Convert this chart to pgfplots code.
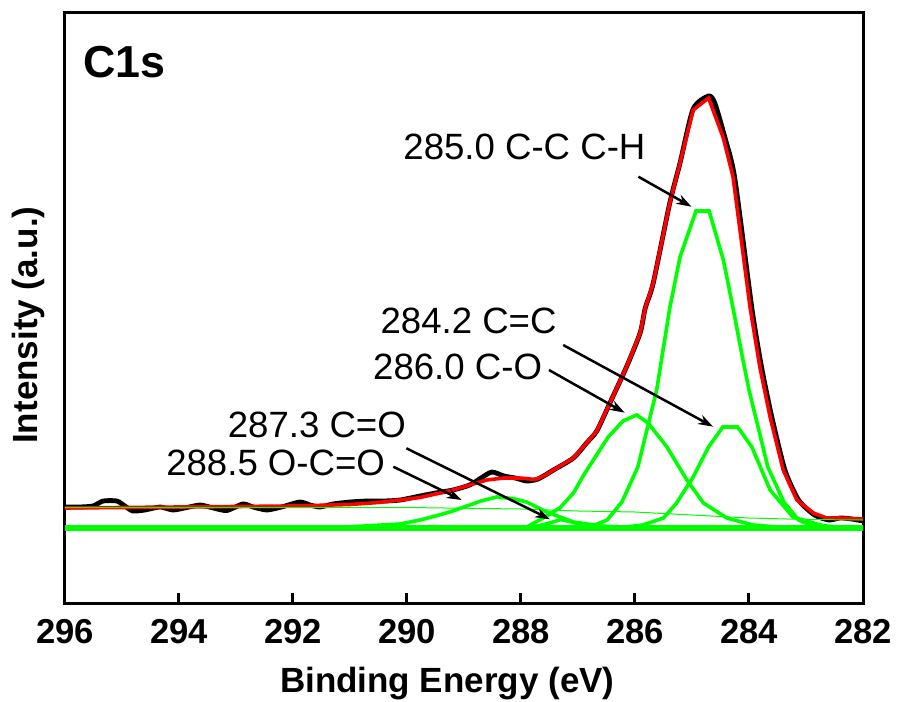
\documentclass[border=0pt]{standalone}
\usepackage{fontspec}
\setmainfont{Liberation Sans}
\usepackage{pgfplots}
\pgfplotsset{compat=1.18}
\usetikzlibrary{arrows.meta}
\definecolor{fitgreen}{RGB}{0,255,0}
\definecolor{fitred}{RGB}{255,0,0}
\tikzset{
  lbl/.style = {anchor=base west, inner sep=0pt, font=\fontsize{18.3}{18.3}\selectfont},
  arr/.style = {-{Stealth[length=7.5pt,width=5pt]}, line width=1.25pt, black},
}

\begin{document}
\begin{tikzpicture}
\begin{axis}[
  scale only axis, width=399pt, height=295pt,
  x dir=reverse, xmin=282, xmax=296, ymin=0, ymax=590,
  xtick={282,284,...,296}, ytick=\empty,
  xtick pos=left, tick align=inside, major tick length=5pt,
  axis line style={line width=1.5pt}, tick style={line width=1.5pt, black},
  /pgf/number format/assume math mode=true,
  xticklabel style={font=\bfseries\fontsize{17.3}{17.3}\selectfont, yshift=-4.5pt},
  xlabel={Binding Energy (eV)}, ylabel={Intensity (a.u.)},
  xlabel style={font=\bfseries\fontsize{17.5}{17.5}\selectfont,
    at={(axis description cs:0.479,-0.136)}, anchor=center},
  ylabel style={font=\bfseries\fontsize{17.5}{17.5}\selectfont,
    at={(axis description cs:-0.046,0.471)}, anchor=center},
  clip=false,
]
% raw data
\addplot[black, line width=2.4pt, smooth, tension=0.4] coordinates {
 (296.0,96) (295.75,96) (295.51,97) (295.33,102) (295.09,102) (294.95,97)
 (294.81,92) (294.6,93) (294.33,96) (294.11,93) (293.9,95) (293.63,98)
 (293.4,95) (293.16,92.5) (292.88,99) (292.7,96) (292.46,93) (292.2,96)
 (291.88,101) (291.7,98) (291.53,96) (291.3,99) (291.0,101) (290.7,102)
 (290.4,102) (290.12,103) (289.77,107) (289.5,110) (289.19,113) (288.9,118)
 (288.7,125) (288.51,131) (288.3,127) (288.1,125) (287.9,122) (287.7,124)
 (287.43,133) (287.08,145) (286.85,160) (286.67,172) (286.44,200) (286.15,236)
 (285.91,270) (285.82,295) (285.68,320) (285.39,400) (285.21,440) (284.98,494)
 (284.71,507) (284.6,500) (284.42,465) (284.25,425) (283.95,295) (283.78,236)
 (283.6,186) (283.37,133) (283.13,103) (282.85,88) (282.6,83) (282.4,85)
 (282.2,84) (282.0,82)};
% envelope
\addplot[fitred, line width=1.8pt] coordinates {
 (296.0,95) (294.0,96) (292.0,97) (291.0,98.5) (290.5,100.5) (290.12,103)
 (289.77,105.5) (289.5,109) (289.19,113) (288.9,118) (288.6,123) (288.3,125)
 (288.02,125) (287.75,123.5) (287.6,127) (287.43,133) (287.08,145) (286.85,160)
 (286.67,172) (286.44,200) (286.15,236) (285.91,270) (285.82,295) (285.68,320)
 (285.39,400) (285.21,440) (284.98,493) (284.71,505) (284.45,465) (284.28,426)
 (283.98,295) (283.81,236) (283.63,186) (283.4,133) (283.16,103) (282.87,90)
 (282.64,85) (282.4,85) (282.0,84)};
% background
\addplot[fitgreen, line width=0.5pt] coordinates {
 (296,95.5) (290,95.5) (288,94) (287,92) (286,91) (285,88) (284,85) (283,83.5) (282,83)};
\addplot[fitgreen, line width=2.6pt] coordinates {(296,75) (282,75)};
% 288.5 O-C=O
\addplot[fitgreen, line width=1.8pt] coordinates {
 (291.5,75.5) (290.9,76.5) (290.12,79) (289.77,83) (289.5,87) (289.25,91)
 (289.0,96) (288.7,102) (288.43,106) (288.15,104.5) (287.9,101) (287.55,91)
 (287.08,81) (286.61,77) (286.0,75.5) (285.5,75)};
% 287.3 C=O
\addplot[fitgreen, line width=1.8pt] coordinates {
 (288.0,75.5) (287.7,77) (287.5,80) (287.3,83.5) (287.1,81) (286.9,77.5) (286.6,75.5) (286.3,75)};
% 286.0 C-O
\addplot[fitgreen, line width=1.8pt] coordinates {
 (288.2,75) (287.9,76) (287.61,85) (287.32,95) (287.08,110) (286.9,128)
 (286.73,143) (286.47,166) (286.21,182) (285.97,188) (285.77,180) (285.44,156)
 (285.09,123) (284.8,100) (284.39,85) (283.93,78) (283.5,76) (283.0,75)};
% 285.0 C-C C-H
\addplot[fitgreen, line width=1.8pt] coordinates {
 (282.5,75) (282.83,76) (283.13,83) (283.39,101) (283.67,136) (284.0,213)
 (284.13,250) (284.28,295) (284.45,343) (284.7,392) (284.93,392) (285.21,346)
 (285.39,295) (285.62,213) (285.95,136) (286.23,101) (286.49,83) (286.79,76) (287.2,75)};
% 284.2 C=C
\addplot[fitgreen, line width=1.8pt] coordinates {
 (282.4,75) (282.75,78) (283.23,86) (283.63,113) (283.95,156) (284.2,176)
 (284.46,176) (284.71,156) (284.98,126) (285.27,100) (285.5,85) (285.86,78) (286.3,75)};

\node[anchor=base west, inner sep=0pt, font=\bfseries\fontsize{22.4}{22.4}\selectfont]
  at (axis cs:295.68,525) {C1s};
\node[lbl] at (axis cs:290.07,443) {285.0 C-C C-H};
\node[lbl] at (axis cs:290.47,269.7) {284.2 C=C};
\node[lbl] at (axis cs:290.60,223) {286.0 C-O};
\node[lbl] at (axis cs:293.15,165.3) {287.3 C=O};
\node[lbl] at (axis cs:294.23,128) {288.5 O-C=O};
\draw[arr] (axis cs:285.94,426.3) -- (axis cs:285.01,396.3);
\draw[arr] (axis cs:287.26,258) -- (axis cs:284.63,176.3);
\draw[arr] (axis cs:287.51,233) -- (axis cs:286.18,190.3);
\draw[arr] (axis cs:290.01,154.7) -- (axis cs:287.49,83.7);
\draw[arr] (axis cs:290.24,136.3) -- (axis cs:289.04,103);
\coordinate (bl) at (rel axis cs:0,0);
\coordinate (tr) at (rel axis cs:1,1);
\end{axis}
\pgfresetboundingbox
\path ([xshift=-32.5pt,yshift=-49pt]bl) rectangle ([xshift=17.5pt,yshift=6.5pt]tr);
\end{tikzpicture}
\end{document}
